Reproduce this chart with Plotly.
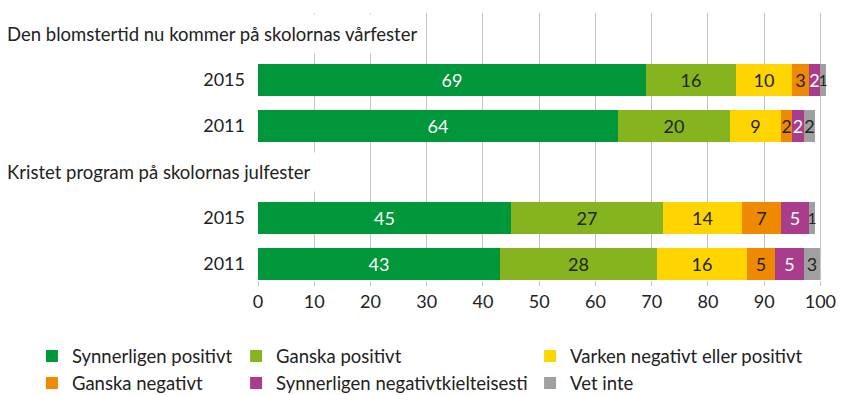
import plotly.graph_objects as go

# Survey answers (%), rows top to bottom: each topic's 2015 and 2011 results
topics = ["Den blomstertid nu kommer på skolornas vårfester",
          "Kristet program på skolornas julfester"]
years = ["2015", "2011", "2015", "2011"]

synnerligen_positivt = [69, 64, 45, 43]
ganska_positivt = [16, 20, 27, 28]
varken = [10, 9, 14, 16]
ganska_negativt = [3, 2, 7, 5]
synnerligen_negativt = [2, 2, 5, 5]
vet_inte = [1, 2, 1, 3]

series = [
    ("Synnerligen positivt", synnerligen_positivt, "#00973A", "white", "legend"),
    ("Ganska positivt", ganska_positivt, "#86B41F", "#222222", "legend2"),
    ("Varken negativt eller positivt", varken, "#FFD500", "#222222", "legend3"),
    ("Ganska negativt", ganska_negativt, "#EF8A00", "#222222", "legend"),
    ("Synnerligen negativtkielteisesti", synnerligen_negativt, "#A93D8C", "white", "legend2"),
    ("Vet inte", vet_inte, "#A0A0A0", "#222222", "legend3"),
]

# slot positions on the y axis: topic headings sit in their own slots
heading_pos = [5, 2]
row_pos = [4, 3, 1, 0]

FONT = "Lato"
TXT = 18.5
NUM = 18
fig = go.Figure()
for i, (name, vals, color, tcolor, leg) in enumerate(series):
    # one-percent slivers get a slightly smaller label so neighbours don't collide
    sizes = [15 if v <= 1 else NUM for v in vals]
    fig.add_trace(go.Bar(
        x=vals, y=row_pos, orientation="h", name=name,
        marker=dict(color=color, line=dict(width=0)),
        width=0.7,
        text=[str(v) for v in vals],
        textposition="inside", insidetextanchor="middle",
        constraintext="none",
        textfont=dict(color=tcolor, size=sizes, family=FONT),
        cliponaxis=False,
        legend=leg, legendgroup=name,
    ))

for t, p in zip(topics, heading_pos):
    fig.add_annotation(
        text=t, x=-0.458, xref="paper", y=p, yref="y",
        xanchor="left", yanchor="middle", showarrow=False,
        font=dict(size=TXT, family=FONT, color="#222222"),
        bgcolor="white", borderpad=8,
    )

legend_style = dict(
    orientation="v", yanchor="top", y=-0.215, xanchor="left",
    font=dict(size=TXT, family=FONT, color="#222222"),
    tracegroupgap=0, bgcolor="rgba(0,0,0,0)",
)

fig.update_layout(
    width=843, height=395,
    margin=dict(l=258, r=17, t=13, b=115, autoexpand=False),
    paper_bgcolor="white", plot_bgcolor="white",
    barmode="stack", bargap=0,
    font=dict(family=FONT, size=TXT, color="#222222"),
    xaxis=dict(
        range=[0, 101], tickvals=list(range(0, 101, 10)),
        showgrid=True, gridcolor="#C4C4C4", gridwidth=1.2,
        zeroline=False, showline=False,
        ticks="outside", ticklen=5, tickcolor="#C4C4C4", tickwidth=1.2,
        tickfont=dict(size=NUM, family=FONT, color="#222222"),
        fixedrange=True,
    ),
    yaxis=dict(
        range=[-0.35, 5.46], tickvals=row_pos, ticktext=years,
        showgrid=False, zeroline=False, showline=False, ticks="",
        ticklabelstandoff=12,
        tickfont=dict(size=NUM, family=FONT, color="#222222"),
        fixedrange=True,
    ),
    legend=dict(legend_style, x=-0.398),
    legend2=dict(legend_style, x=-0.0386),
    legend3=dict(legend_style, x=0.479),
    showlegend=True,
)

fig.write_html("out.html")
